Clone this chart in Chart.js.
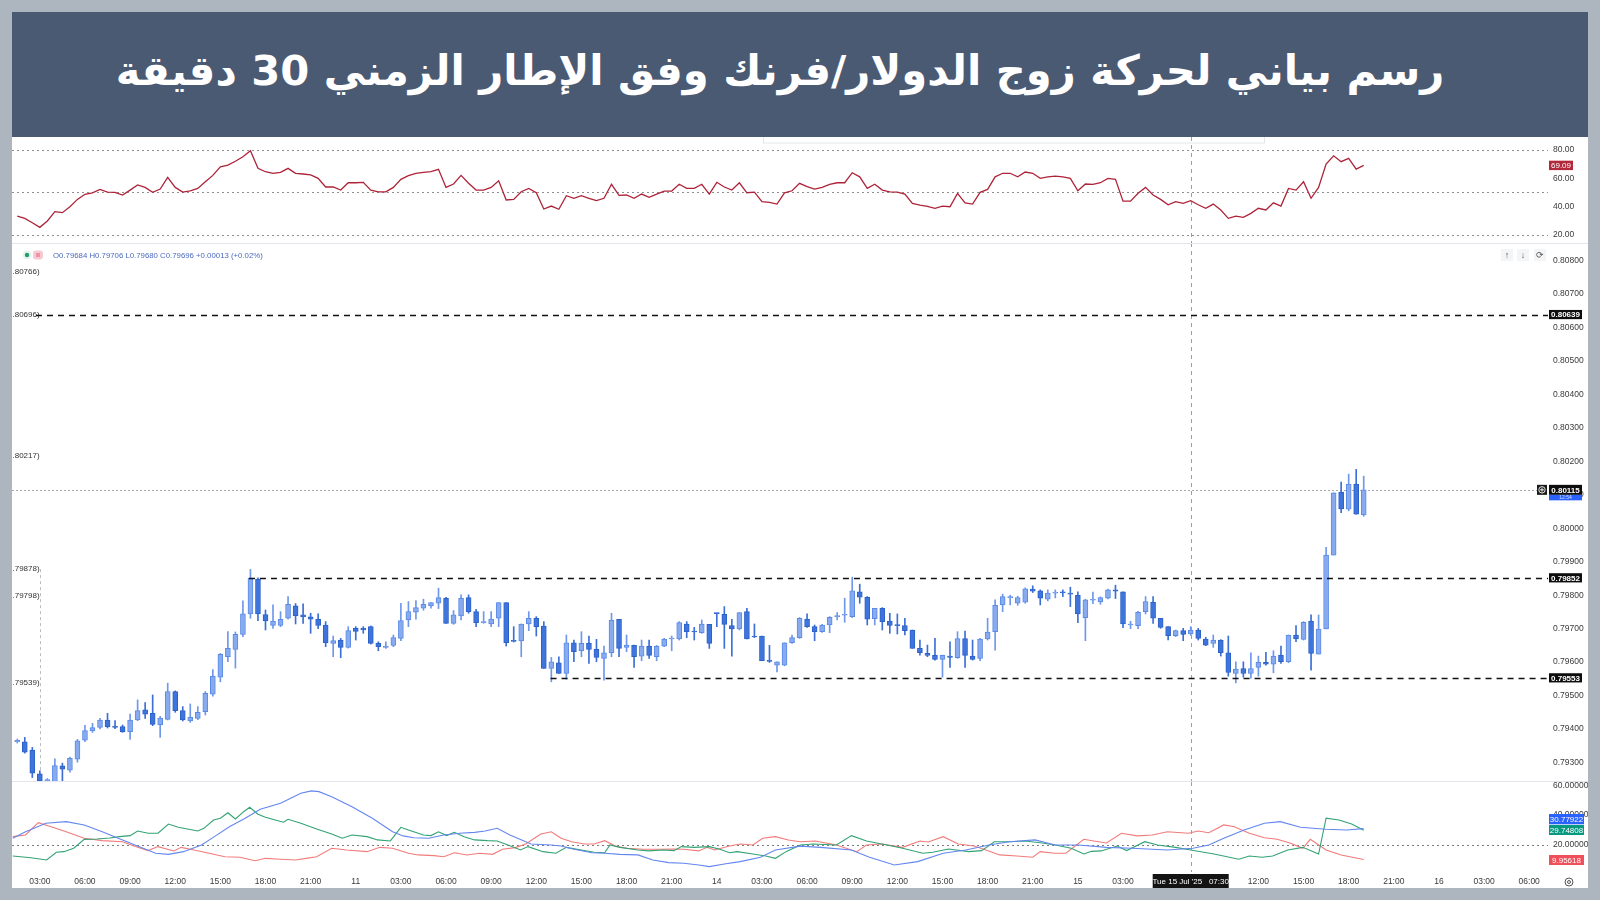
<!DOCTYPE html>
<html><head><meta charset="utf-8">
<script src="https://cdn.jsdelivr.net/npm/chart.js@4.4.1/dist/chart.umd.min.js"></script>
<style>
html,body{margin:0;padding:0;background:#adb5bf;}
#frame{position:absolute;left:0;top:0;width:1600px;height:900px;background:#adb5bf;overflow:hidden;}
#banner{position:absolute;left:12px;top:12px;width:1576px;height:125px;background:#4b5a73;overflow:hidden;}
#title{position:absolute;left:-20px;top:0;width:1576px;height:118px;line-height:118px;text-align:center;color:#fff;font-family:'DejaVu Sans',sans-serif;font-weight:bold;direction:rtl;white-space:nowrap;}
#white{position:absolute;left:12px;top:137px;width:1576px;height:751px;background:#fff;}
canvas{position:absolute;left:12px;}
#sep1{position:absolute;left:12px;top:243px;width:1576px;height:1px;background:#e3e5ea;}
#sep2{position:absolute;left:12px;top:781px;width:1576px;height:1px;background:#e3e5ea;}
</style></head>
<body><div id="frame">
<div id="banner"><div id="title">رسم بياني لحركة زوج الدولار/فرنك وفق الإطار الزمني 30 دقيقة</div></div>
<div id="white"></div>
<canvas id="rsi" width="1576" height="106" style="top:137px"></canvas>
<canvas id="price" width="1576" height="539" style="top:243px"></canvas>
<canvas id="dmi" width="1576" height="106" style="top:782px"></canvas>
<div id="sep1"></div><div id="sep2"></div>
</div>
<script>
// ---------- DATA (30-minute bars, index 0 = 10 Jul 01:30) ----------
const openP = [0.79362,0.79362,0.79337,0.79266,0.79245,0.79240,0.79290,0.79277,0.79310,0.79367,
0.79394,0.79405,0.79427,0.79409,0.79407,0.79392,0.79427,0.79457,0.79447,0.79412,
0.79429,0.79512,0.79455,0.79424,0.79432,0.79452,0.79504,0.79555,0.79616,0.79638,
0.79683,0.79744,0.79848,0.79742,0.79710,0.79710,0.79731,0.79768,0.79741,0.79735,
0.79728,0.79711,0.79656,0.79666,0.79644,0.79701,0.79701,0.79706,0.79656,0.79644,
0.79650,0.79671,0.79726,0.79749,0.79761,0.79768,0.79776,0.79791,0.79716,0.79738,
0.79793,0.79751,0.79718,0.79714,0.79731,0.79778,0.79664,0.79663,0.79714,0.79731,
0.79708,0.79581,0.79598,0.79566,0.79658,0.79634,0.79656,0.79638,0.79611,0.79628,
0.79728,0.79644,0.79650,0.79618,0.79648,0.79616,0.79648,0.79669,0.79669,0.79714,
0.79691,0.79688,0.79713,0.79747,0.79743,0.79709,0.79699,0.79751,0.79676,0.79678,
0.79603,0.79591,0.79591,0.79658,0.79673,0.79729,0.79706,0.79691,0.79711,0.79736,
0.79740,0.79736,0.79810,0.79794,0.79730,0.79761,0.79723,0.79710,0.79709,0.79696,
0.79641,0.79626,0.79620,0.79608,0.79618,0.79613,0.79670,0.79618,0.79611,0.79669,
0.79691,0.79771,0.79793,0.79776,0.79779,0.79818,0.79813,0.79788,0.79806,0.79808,
0.79806,0.79800,0.79733,0.79785,0.79780,0.79791,0.79816,0.79810,0.79711,0.79709,
0.79751,0.79779,0.79731,0.79706,0.79679,0.79694,0.79684,0.79696,0.79669,0.79656,
0.79666,0.79628,0.79566,0.79581,0.79566,0.79584,0.79599,0.79594,0.79621,0.79601,
0.79681,0.79668,0.79723,0.79624,0.79699,0.79920,0.80108,0.80057,0.80132,0.80040];
const highP = [0.79370,0.79375,0.79345,0.79275,0.79252,0.79311,0.79298,0.79316,0.79369,0.79411,
0.79417,0.79432,0.79447,0.79425,0.79412,0.79445,0.79487,0.79479,0.79502,0.79438,
0.79537,0.79514,0.79467,0.79475,0.79467,0.79512,0.79578,0.79626,0.79691,0.79690,
0.79783,0.79877,0.79852,0.79756,0.79771,0.79751,0.79796,0.79775,0.79774,0.79746,
0.79744,0.79721,0.79678,0.79671,0.79706,0.79706,0.79706,0.79708,0.79661,0.79661,
0.79681,0.79776,0.79781,0.79784,0.79788,0.79778,0.79821,0.79794,0.79754,0.79801,
0.79801,0.79758,0.79751,0.79751,0.79778,0.79778,0.79706,0.79714,0.79751,0.79736,
0.79721,0.79614,0.79616,0.79681,0.79666,0.79691,0.79678,0.79668,0.79648,0.79746,
0.79728,0.79681,0.79651,0.79666,0.79666,0.79650,0.79671,0.79678,0.79721,0.79721,
0.79704,0.79726,0.79713,0.79747,0.79766,0.79728,0.79748,0.79761,0.79714,0.79678,
0.79650,0.79601,0.79658,0.79681,0.79733,0.79744,0.79711,0.79713,0.79736,0.79748,
0.79791,0.79854,0.79833,0.79796,0.79761,0.79763,0.79746,0.79744,0.79731,0.79696,
0.79666,0.79651,0.79671,0.79621,0.79661,0.79691,0.79693,0.79666,0.79671,0.79731,
0.79786,0.79803,0.79800,0.79797,0.79822,0.79828,0.79816,0.79816,0.79816,0.79816,
0.79824,0.79810,0.79788,0.79809,0.79795,0.79818,0.79830,0.79810,0.79722,0.79752,
0.79796,0.79796,0.79731,0.79706,0.79696,0.79701,0.79706,0.79701,0.79674,0.79681,
0.79667,0.79678,0.79601,0.79601,0.79628,0.79618,0.79629,0.79634,0.79648,0.79681,
0.79709,0.79721,0.79741,0.79741,0.79943,0.80106,0.80138,0.80162,0.80176,0.80156];
const lowP = [0.79358,0.79328,0.79255,0.79236,0.79228,0.79232,0.79238,0.79271,0.79301,0.79362,
0.79390,0.79400,0.79403,0.79401,0.79390,0.79369,0.79425,0.79432,0.79410,0.79375,
0.79427,0.79450,0.79424,0.79420,0.79428,0.79442,0.79498,0.79541,0.79601,0.79582,
0.79676,0.79731,0.79724,0.79696,0.79701,0.79706,0.79728,0.79714,0.79716,0.79686,
0.79700,0.79646,0.79616,0.79613,0.79642,0.79666,0.79686,0.79654,0.79634,0.79641,
0.79646,0.79664,0.79706,0.79728,0.79755,0.79761,0.79760,0.79716,0.79713,0.79726,
0.79746,0.79706,0.79716,0.79706,0.79706,0.79648,0.79660,0.79616,0.79694,0.79678,
0.79581,0.79541,0.79566,0.79549,0.79601,0.79616,0.79596,0.79601,0.79546,0.79616,
0.79616,0.79631,0.79584,0.79604,0.79611,0.79604,0.79646,0.79634,0.79666,0.79673,
0.79666,0.79686,0.79641,0.79706,0.79641,0.79618,0.79696,0.79669,0.79673,0.79604,
0.79599,0.79571,0.79589,0.79656,0.79671,0.79704,0.79664,0.79689,0.79688,0.79726,
0.79719,0.79733,0.79776,0.79711,0.79711,0.79696,0.79686,0.79684,0.79681,0.79641,
0.79621,0.79616,0.79606,0.79555,0.79584,0.79611,0.79584,0.79606,0.79604,0.79666,
0.79636,0.79751,0.79771,0.79770,0.79776,0.79808,0.79771,0.79783,0.79792,0.79796,
0.79766,0.79718,0.79664,0.79775,0.79773,0.79789,0.79790,0.79703,0.79700,0.79700,
0.79744,0.79716,0.79701,0.79666,0.79676,0.79664,0.79680,0.79666,0.79649,0.79644,
0.79618,0.79558,0.79538,0.79555,0.79552,0.79558,0.79591,0.79568,0.79596,0.79598,
0.79661,0.79666,0.79576,0.79624,0.79699,0.79920,0.80047,0.80052,0.80042,0.80036];
const closeP = [0.79366,0.79331,0.79268,0.79245,0.79249,0.79291,0.79280,0.79312,0.79365,0.79395,
0.79404,0.79427,0.79407,0.79405,0.79392,0.79427,0.79455,0.79444,0.79414,0.79433,
0.79512,0.79455,0.79427,0.79435,0.79450,0.79507,0.79558,0.79623,0.79641,0.79683,
0.79744,0.79851,0.79744,0.79723,0.79723,0.79728,0.79773,0.79739,0.79735,0.79728,
0.79710,0.79658,0.79664,0.79644,0.79694,0.79692,0.79696,0.79656,0.79646,0.79648,
0.79673,0.79724,0.79751,0.79763,0.79773,0.79778,0.79793,0.79716,0.79741,0.79791,
0.79751,0.79718,0.79719,0.79729,0.79778,0.79658,0.79662,0.79714,0.79731,0.79706,
0.79581,0.79601,0.79566,0.79658,0.79631,0.79656,0.79638,0.79614,0.79628,0.79726,
0.79641,0.79651,0.79616,0.79648,0.79620,0.79648,0.79669,0.79671,0.79718,0.79691,
0.79690,0.79714,0.79656,0.79745,0.79713,0.79699,0.79748,0.79669,0.79675,0.79604,
0.79602,0.79601,0.79658,0.79673,0.79731,0.79706,0.79691,0.79711,0.79734,0.79738,
0.79741,0.79813,0.79794,0.79728,0.79761,0.79721,0.79710,0.79709,0.79694,0.79641,
0.79628,0.79620,0.79608,0.79620,0.79614,0.79670,0.79620,0.79608,0.79669,0.79690,
0.79770,0.79796,0.79795,0.79793,0.79819,0.79812,0.79791,0.79806,0.79808,0.79807,
0.79803,0.79744,0.79786,0.79786,0.79793,0.79816,0.79812,0.79714,0.79712,0.79749,
0.79781,0.79731,0.79704,0.79679,0.79694,0.79683,0.79696,0.79671,0.79651,0.79666,
0.79628,0.79569,0.79579,0.79566,0.79581,0.79599,0.79594,0.79618,0.79601,0.79681,
0.79669,0.79719,0.79626,0.79699,0.79920,0.80106,0.80058,0.80132,0.80042,0.80115];
const rsiValues = [33.2,31.6,28.5,25.2,29.7,36.3,35.6,39.8,45.0,48.6,
49.7,52.1,50.2,50.0,48.1,51.6,55.2,53.5,50.0,52.3,
60.6,53.5,50.2,51.1,52.8,57.5,62.0,68.1,69.3,72.0,
75.2,79.5,67.0,64.6,63.5,64.2,67.0,63.5,63.0,62.3,
59.9,53.8,53.8,51.6,56.8,56.8,57.1,51.6,50.4,50.3,
53.5,59.2,61.8,63.5,64.2,64.6,66.3,53.5,55.9,62.0,
56.4,51.6,51.6,53.5,58.2,44.6,45.0,50.4,52.8,49.7,
38.2,40.3,38.0,47.6,45.8,47.6,45.8,44.1,45.8,55.7,
47.9,48.1,45.8,48.8,46.5,48.8,50.9,50.9,55.7,52.8,
52.8,55.7,48.8,57.1,53.8,51.6,56.8,49.7,50.2,43.4,
42.9,41.7,49.7,51.1,56.4,54.0,52.3,53.5,55.7,56.8,
56.8,63.9,61.0,52.8,55.7,51.6,50.4,50.2,48.8,42.2,
41.0,40.1,38.7,40.3,39.8,49.3,42.6,41.7,50.0,52.1,
61.0,63.5,63.5,61.0,64.4,63.5,59.9,61.0,61.5,61.0,
59.9,51.1,55.9,55.7,56.8,59.9,59.2,43.8,43.8,49.3,
53.5,48.1,45.0,41.2,43.4,42.2,44.1,41.2,38.7,41.7,
37.5,31.6,33.2,32.3,35.1,38.7,37.5,42.6,40.3,52.8,
51.6,57.5,45.8,53.5,70.0,75.9,71.7,74.1,66.5,69.09];
// DMI lines: [bar index, value]
const adxPoints = [[-0.6,24.3],[1.1,28.7],[3.8,34.4],[6.5,35.5],[8.9,33.3],[11.3,28.7],[14.0,23.2],[16.4,18.2],[18.4,14.2],[20.1,13.5],[22.1,15.3],[24.5,19.8],[26.2,25.4],[28.2,32.1],[30.3,37.8],[32.3,43.8],[35.0,47.9],[37.7,54.6],[39.1,56.2],[40.1,55.7],[41.8,52.3],[44.5,45.6],[47.2,37.8],[49.9,28.7],[51.3,25.9],[52.7,24.7],[54.7,24.3],[56.7,26.5],[58.8,27.7],[60.8,28.3],[62.2,29.2],[63.8,31.0],[65.5,26.5],[68.3,20.5],[71.0,19.8],[72.3,19.1],[74.0,16.9],[76.4,14.6],[78.1,14.2],[80.1,13.5],[82.5,13.1],[84.5,9.7],[86.6,7.9],[88.6,7.5],[90.6,6.3],[92.0,5.2],[94.0,7.0],[96.1,8.6],[98.8,11.5],[100.8,16.4],[104.1,19.0],[106.8,18.2],[110.9,16.4],[113.3,11.5],[116.6,6.3],[119.7,8.6],[123.1,14.2],[126.1,16.4],[129.2,19.8],[131.9,22.0],[135.3,23.2],[138.0,19.8],[141.1,19.8],[144.8,18.2],[148.2,17.6],[152.9,16.4],[156.3,17.6],[158.4,19.8],[160.4,24.3],[163.1,29.9],[165.8,34.4],[167.9,35.5],[170.6,31.7],[174.0,30.4],[176.7,29.9],[179,30.78]];
const plusDiPoints = [[-0.6,12.4],[1.8,11.2],[3.9,9.7],[5.2,14.9],[6.2,15.3],[7.5,17.6],[8.9,23.6],[10.6,23.8],[12.3,24.5],[13.6,25.4],[15.0,26.1],[16.0,29.2],[17.4,27.7],[18.7,27.7],[20.1,33.9],[21.4,31.7],[22.8,30.4],[24.0,29.2],[24.8,31.0],[26.1,36.6],[27.0,37.8],[28.0,41.5],[29.0,37.3],[30.1,42.2],[30.9,45.2],[32.0,40.5],[33.0,38.5],[34.3,36.6],[35.4,35.1],[36.0,37.1],[37.7,34.4],[39.8,30.6],[41.8,27.2],[43.2,24.3],[44.5,26.5],[46.5,25.4],[47.9,23.2],[49.6,22.5],[51.0,31.7],[52.0,29.9],[54.0,26.5],[55.0,26.1],[56.0,28.7],[57.1,26.1],[58.1,28.3],[59.4,25.4],[60.8,23.2],[62.5,22.7],[63.8,22.5],[65.5,19.3],[66.9,16.4],[67.9,18.7],[69.9,15.3],[71.6,14.2],[73.0,18.2],[75.0,16.4],[76.7,14.9],[78.1,14.6],[78.8,19.8],[80.1,18.2],[82.5,16.4],[83.9,15.8],[85.9,16.4],[87.3,16.0],[88.3,18.7],[90.0,18.2],[92.0,18.7],[93.4,16.9],[94.7,14.6],[95.7,15.3],[97.8,13.7],[99.5,12.4],[100.8,10.8],[102.2,15.3],[104.1,19.8],[105.8,20.5],[108.9,19.8],[110.9,26.1],[112.9,22.5],[115.6,19.8],[117.7,17.6],[120.4,14.2],[121.7,14.9],[123.8,17.1],[126.5,15.3],[128.2,16.0],[129.9,22.0],[131.9,22.0],[134.0,22.5],[136.0,21.3],[138.0,19.8],[140.1,17.6],[141.8,13.7],[142.8,15.5],[144.1,15.8],[146.2,19.1],[147.5,16.0],[149.9,22.0],[151.6,19.8],[154.0,18.2],[156.0,16.4],[159.1,13.7],[162.4,10.2],[163.8,12.4],[165.5,11.5],[166.9,12.4],[168.9,16.4],[170.9,18.2],[173.0,13.7],[174.0,37.8],[175.7,36.6],[177.4,33.9],[179,29.75]];
const minusDiPoints = [[-0.6,25.4],[1.1,26.5],[2.8,34.8],[4.5,32.1],[6.5,28.7],[8.9,24.3],[11.3,22.7],[14.0,22.0],[15.7,18.7],[17.4,16.0],[18.7,18.7],[20.8,15.8],[21.8,18.2],[23.5,16.4],[25.5,14.2],[27.6,11.9],[29.6,11.5],[31.6,9.2],[33.0,10.8],[35.0,10.2],[37.0,9.7],[38.4,10.8],[39.8,11.9],[41.8,17.6],[43.8,16.4],[46.5,15.3],[48.2,18.2],[49.9,17.6],[52.0,14.2],[53.3,13.1],[55.4,12.6],[56.7,11.9],[58.1,14.6],[59.8,13.1],[61.5,14.2],[63.2,13.5],[64.5,16.9],[66.2,18.0],[67.6,20.5],[69.6,27.2],[71.0,28.7],[72.3,24.3],[73.7,22.0],[75.4,20.5],[76.7,20.5],[78.1,22.7],[79.5,19.1],[81.1,17.6],[83.2,16.9],[85.2,16.9],[87.3,17.1],[88.6,16.9],[90.6,15.8],[91.7,18.2],[92.7,16.4],[94.7,19.1],[96.1,20.5],[97.8,19.8],[99.1,24.3],[100.8,25.4],[102.5,23.2],[104.1,22.0],[106.1,22.5],[108.9,19.8],[111.6,15.3],[112.9,19.8],[115.0,20.5],[117.7,18.2],[120.0,22.5],[121.1,21.8],[123.1,25.4],[125.1,20.5],[127.2,19.1],[128.5,16.9],[130.6,13.1],[132.9,12.4],[135.0,11.5],[136.0,15.3],[138.0,14.2],[139.4,14.2],[141.8,23.6],[143.1,22.5],[144.8,21.1],[146.8,27.7],[148.9,25.9],[150.9,26.5],[152.9,28.7],[155.7,27.7],[157.0,29.2],[158.4,28.0],[160.4,33.3],[161.8,32.1],[163.8,27.7],[165.8,24.7],[167.5,23.6],[169.2,21.1],[170.9,17.6],[171.9,23.6],[174.0,16.4],[176.0,13.1],[179,9.96]];
const timeTickIdx = [3,9,15,21,27,33,39,45,51,57,63,69,75,81,87,93,99,105,111,117,123,129,135,141,147,153,159,165,171,177,183,189,195,201];
const timeTickText = ['03:00','06:00','09:00','12:00','15:00','18:00','21:00','11','03:00','06:00','09:00','12:00','15:00','18:00','21:00','14','03:00','06:00','09:00','12:00','15:00','18:00','21:00','15','03:00','06:00','09:00','12:00','15:00','18:00','21:00','16','03:00','06:00'];
const resistanceLevel = 0.80639;
const rangeTop = 0.79852, rangeTopFrom = 30.8;
const rangeBottom = 0.79553, rangeBottomFrom = 70.9;
const lastPrice = 0.80115;
const crossIdx = 156;
const crossLabel = "Tue 15 Jul '25   07:30";
const markerIdx = 3, markerTop = 0.79878;
const leftNoteText = ['.80766)','.80696)','.80217)','.79878)','.79798)','.79539)'];
const leftNotePrice = [0.80766,0.80639,0.80217,0.79878,0.79798,0.79539];
const legendText = 'O0.79684 H0.79706 L0.79680 C0.79696 +0.00013 (+0.02%)';
const dmiLabels = ['30.77922','29.74808','9.95618'];
const rsiLast = 69.09;

// ---------- STYLE ----------
const FONT = "'Liberation Sans Narrow','Liberation Sans',Arial,sans-serif";
Chart.defaults.font.family = FONT;
Chart.defaults.font.size = 8.5;
Chart.defaults.color = '#333';
const X_MIN = -0.7, X_MAX = 203.5;
const UP_FILL='#88abef', UP_EDGE='#5a8ae6', DN_FILL='#3e75dc', DN_EDGE='#2d61c8', UP_WICK='#6f97ea', DN_WICK='#3c6fd6';

// title fit
(function(){
  const t=document.getElementById('title');
  const c=document.createElement('canvas').getContext('2d');
  c.font="bold 100px 'DejaVu Sans'";
  const w=c.measureText(t.textContent).width;
  t.style.fontSize=(100*1329/w)+'px';
})();

function yAxis(min,max,step,dec){
  return {type:'linear',position:'right',min:min,max:max,
    afterFit:s=>{s.width=40;s.paddingTop=0;s.paddingBottom=0;},
    grid:{display:false,drawTicks:false},border:{display:false},
    ticks:{stepSize:step,includeBounds:false,padding:5,color:'#3a3a3a',autoSkip:false,callback:v=>Number(v).toFixed(dec)}};
}
const hiddenX = {type:'linear',min:X_MIN,max:X_MAX,offset:false,display:false};
const baseOpts = {responsive:false,animation:false,events:[],layout:{padding:0,autoPadding:false},
  plugins:{legend:{display:false},tooltip:{enabled:false}}};

function hline(ctx,x1,x2,y,color,dash,w){ctx.save();ctx.strokeStyle=color;ctx.lineWidth=w;ctx.setLineDash(dash);ctx.beginPath();ctx.moveTo(x1,y);ctx.lineTo(x2,y);ctx.stroke();ctx.restore();}
function vline(ctx,x,y1,y2,color,dash,w){ctx.save();ctx.strokeStyle=color;ctx.lineWidth=w;ctx.setLineDash(dash);ctx.beginPath();ctx.moveTo(x,y1);ctx.lineTo(x,y2);ctx.stroke();ctx.restore();}
function box(ctx,x,y,w,h,bg,txt,fg,bold,size){ctx.save();ctx.fillStyle=bg;ctx.fillRect(x,y,w,h);ctx.fillStyle=fg;ctx.font=(bold?'bold ':'')+(size||8)+'px '+FONT;ctx.textAlign='center';ctx.textBaseline='middle';ctx.fillText(txt,x+w/2,y+h/2+0.5);ctx.restore();}

// ---------- RSI ----------
new Chart(document.getElementById('rsi'),{
  type:'line',
  data:{datasets:[{data:rsiValues.map((v,i)=>({x:i,y:v})),borderColor:'#ad2338',borderWidth:1.3,pointRadius:0,tension:0}]},
  options:Object.assign({},baseOpts,{scales:{x:hiddenX,y:yAxis(14.12,89.2,20,2)}}),
  plugins:[{id:'rsiDeco',
    beforeDatasetsDraw(ch){const {ctx,chartArea:a,scales:{x,y}}=ch;
      [80,50,20].forEach(v=>hline(ctx,a.left,a.right,Math.round(y.getPixelForValue(v))+0.5,'#8f8f8f',[2,3],1));
      vline(ctx,Math.round(x.getPixelForValue(crossIdx))+0.5,a.top,a.bottom,'#9aa0a8',[4,4],1);
      ctx.save();ctx.strokeStyle='#e4e6ea';ctx.lineWidth=1;ctx.strokeRect(751.5,-5,501,11);ctx.restore();
    },
    afterDraw(ch){const {ctx,chartArea:a,scales:{y}}=ch;
      const py=y.getPixelForValue(rsiLast);
      box(ctx,a.right+1,py-4.7,24,9.4,'#b3283b',rsiLast.toFixed(2),'#fff',false,8);
    }}]
});

// ---------- PRICE ----------
const isUp = openP.map((o,i)=>closeP[i]>=o);
new Chart(document.getElementById('price'),{
  type:'bar',
  data:{datasets:[
    {data:openP.map((o,i)=>({x:i,y:[o,closeP[i]]})),backgroundColor:isUp.map(u=>u?UP_FILL:DN_FILL),borderColor:isUp.map(u=>u?UP_EDGE:DN_EDGE),borderWidth:1,borderSkipped:false,barThickness:5,grouped:false,minBarLength:1,order:0},
    {data:lowP.map((l,i)=>({x:i,y:[l,highP[i]]})),backgroundColor:isUp.map(u=>u?UP_WICK:DN_WICK),borderWidth:0,barThickness:1,grouped:false,order:1}
  ]},
  options:Object.assign({},baseOpts,{scales:{x:hiddenX,y:yAxis(0.792416,0.808529,0.001,5)}}),
  plugins:[{id:'priceDeco',
    beforeDatasetsDraw(ch){const {ctx,chartArea:a,scales:{x,y}}=ch;
      hline(ctx,a.left,a.right,Math.round(y.getPixelForValue(lastPrice))+0.5,'#a6abb3',[2,2],1);
      vline(ctx,Math.round(x.getPixelForValue(crossIdx))+0.5,a.top,a.bottom,'#9aa0a8',[4,4],1);
      vline(ctx,Math.round(x.getPixelForValue(markerIdx))+0.5,y.getPixelForValue(markerTop),a.bottom,'#b9bdc4',[3,3],1);
      ctx.save();ctx.font='8px '+FONT;ctx.fillStyle='#333';ctx.textBaseline='middle';ctx.textAlign='left';
      leftNoteText.forEach((t,i)=>ctx.fillText(t,a.left+0.5,y.getPixelForValue(leftNotePrice[i])));
      ctx.restore();
    },
    afterDatasetsDraw(ch){const {ctx,chartArea:a,scales:{x,y}}=ch;
      hline(ctx,a.left+24,a.right,Math.round(y.getPixelForValue(resistanceLevel))+0.5,'#111',[6,5],1.6);
      hline(ctx,x.getPixelForValue(rangeTopFrom),a.right,Math.round(y.getPixelForValue(rangeTop))+0.5,'#111',[6,5],1.6);
      hline(ctx,x.getPixelForValue(rangeBottomFrom),a.right,Math.round(y.getPixelForValue(rangeBottom))+0.5,'#111',[6,5],1.6);
    },
    afterDraw(ch){const {ctx,chartArea:a,scales:{y}}=ch;
      [resistanceLevel,rangeTop,rangeBottom].forEach(p=>{const py=y.getPixelForValue(p);box(ctx,a.right+1,py-4.6,33,9.2,'#0d0d0d',p.toFixed(5),'#fff',true,8);});
      const ly=y.getPixelForValue(lastPrice);
      box(ctx,a.right+1,ly-5,33,10,'#0d0d0d',lastPrice.toFixed(5),'#fff',true,8);
      box(ctx,a.right+1,ly+5,33,5.5,'#2962ff','12:54','#cfe0ff',false,5);
      ctx.save();ctx.fillStyle='#1a1a1a';ctx.fillRect(a.right-11,ly-5,10,10);
      ctx.strokeStyle='#fff';ctx.lineWidth=0.9;ctx.beginPath();ctx.arc(a.right-6,ly,3.2,0,Math.PI*2);ctx.stroke();
      ctx.beginPath();ctx.moveTo(a.right-8,ly);ctx.lineTo(a.right-4,ly);ctx.moveTo(a.right-6,ly-2);ctx.lineTo(a.right-6,ly+2);ctx.stroke();ctx.restore();
      // legend
      ctx.save();
      ctx.fillStyle='#e6f3ee';ctx.beginPath();ctx.arc(15,12,4.5,0,Math.PI*2);ctx.fill();
      ctx.fillStyle='#1f9d6a';ctx.beginPath();ctx.arc(15,12,2.2,0,Math.PI*2);ctx.fill();
      ctx.fillStyle='#f7c9d2';ctx.beginPath();ctx.roundRect(21,7.5,10,9,3);ctx.fill();
      ctx.strokeStyle='#d9475f';ctx.lineWidth=0.8;ctx.beginPath();ctx.moveTo(24,11);ctx.lineTo(28,11);ctx.moveTo(24,13);ctx.lineTo(28,13);ctx.stroke();
      ctx.font='7.8px '+FONT;ctx.fillStyle='#4c6bbf';ctx.textBaseline='middle';ctx.textAlign='left';
      ctx.fillText(legendText,41,12.5);
      // top-right buttons
      ctx.font='9px '+FONT;ctx.textAlign='center';
      [['↑',1495],['↓',1511],['⟳',1528]].forEach(b=>{ctx.fillStyle='#f4f5f7';ctx.fillRect(b[1]-6,6,12,12);ctx.fillStyle='#555';ctx.fillText(b[0],b[1],12.5);});
      ctx.restore();
    }}]
});

// ---------- DMI ----------
const pts = arr=>arr.map(p=>({x:p[0],y:p[1]}));
new Chart(document.getElementById('dmi'),{
  type:'line',
  data:{datasets:[
    {data:pts(adxPoints),borderColor:'#6487ef',borderWidth:1.1,pointRadius:0,tension:0},
    {data:pts(plusDiPoints),borderColor:'#32a374',borderWidth:1.1,pointRadius:0,tension:0},
    {data:pts(minusDiPoints),borderColor:'#f27b7b',borderWidth:1.1,pointRadius:0,tension:0}
  ]},
  options:Object.assign({},baseOpts,{scales:{
    x:{type:'linear',min:X_MIN,max:X_MAX,offset:false,position:'bottom',
      afterFit:s=>{s.height=16;s.paddingLeft=0;s.paddingRight=0;},
      afterBuildTicks:s=>{s.ticks=timeTickIdx.map(v=>({value:v}));},
      grid:{display:false,drawTicks:false},border:{display:false},
      ticks:{autoSkip:false,maxRotation:0,padding:5,color:'#3a3a3a',callback:v=>{const k=timeTickIdx.indexOf(v);return k<0?'':timeTickText[k];}}},
    y:yAxis(1.6,62.2,20,5)}}),
  plugins:[{id:'dmiDeco',
    beforeDatasetsDraw(ch){const {ctx,chartArea:a,scales:{x,y}}=ch;
      hline(ctx,a.left,a.right,Math.round(y.getPixelForValue(20))+0.5,'#7d7d7d',[2,3],1);
      vline(ctx,Math.round(x.getPixelForValue(crossIdx))+0.5,a.top,a.bottom,'#9aa0a8',[4,4],1);
    },
    afterDraw(ch){const {ctx,chartArea:a,scales:{x}}=ch;
      box(ctx,a.right+1,32,35,10.3,'#2962ff',dmiLabels[0],'#fff',false,8);
      box(ctx,a.right+1,43,35,10,'#089981',dmiLabels[1],'#fff',false,8);
      box(ctx,a.right+1,73,35,10,'#f0505a',dmiLabels[2],'#fff',false,8);
      const cx=x.getPixelForValue(crossIdx);
      box(ctx,cx-38,92,76,14,'#131313',crossLabel,'#fff',false,8);
      ctx.save();ctx.strokeStyle='#555';ctx.lineWidth=1;ctx.beginPath();ctx.arc(a.right+21,100,4,0,Math.PI*2);ctx.stroke();
      ctx.beginPath();ctx.arc(a.right+21,100,1.5,0,Math.PI*2);ctx.stroke();ctx.restore();
    }}]
});
</script>
</body></html>
